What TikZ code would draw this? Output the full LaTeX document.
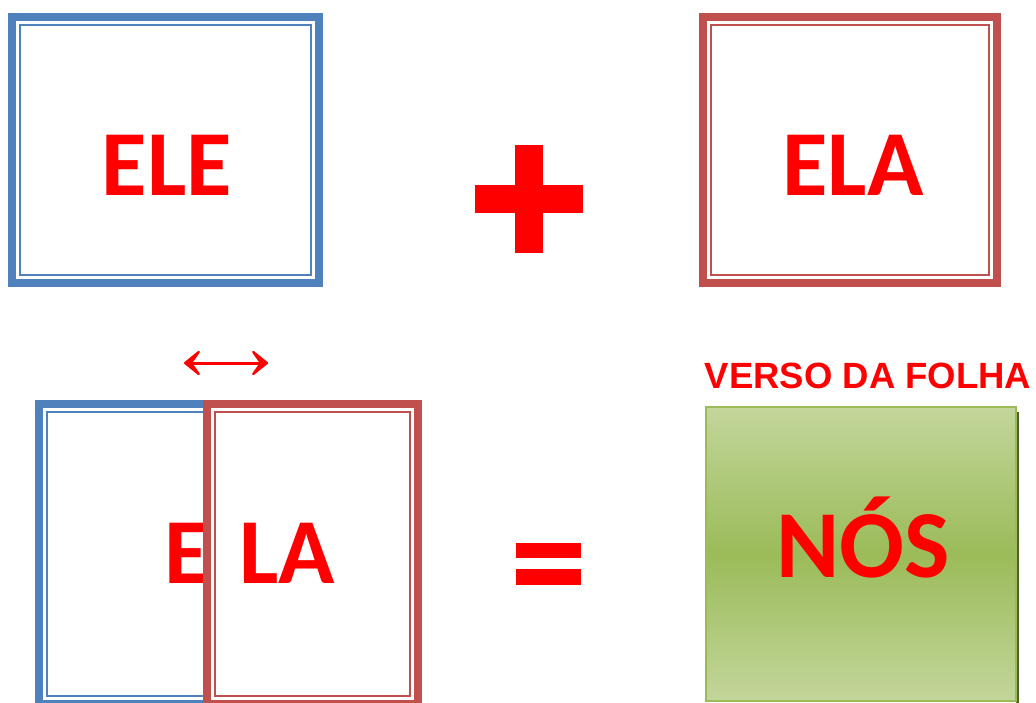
\documentclass[tikz,border=0pt]{standalone}
\usepackage{fontspec}
\newfontfamily\carl{Carlito}
\newfontfamily\arialb{Liberation Sans}
\usetikzlibrary{arrows.meta}
\definecolor{bx}{HTML}{4F81BD}
\definecolor{rx}{HTML}{C0504D}
\definecolor{gl}{HTML}{C3D69B}
\definecolor{gm}{HTML}{9BBB59}
\definecolor{gb}{HTML}{9BBB59}
\definecolor{gs}{HTML}{4F6228}
\newcommand{\dblbox}[5]{%
  \draw[line width=8pt,#5] ({#1+4},{#2+4}) rectangle ({#3-4},{#4-4});
  \draw[line width=2.5pt,#5] ({#1+12},{#2+12}) rectangle ({#3-12},{#4-12});}
\begin{document}
\begin{tikzpicture}[x=1pt,y=-1pt,
  big/.style={font=\carl\bfseries\fontsize{93}{93}\selectfont, text=red, inner sep=0pt},
  huge/.style={font=\carl\bfseries\fontsize{96}{96}\selectfont, text=red, inner sep=0pt},
  head/.style={font=\arialb\bfseries\fontsize{36.5}{36.5}\selectfont, text=red, inner sep=0pt},
  sign/.style={fill=red, draw=none},
  tip/.tip={Stealth[length=21pt,width=34pt,inset=12pt,round,line width=2.5pt]}]
\useasboundingbox (0,0) rectangle (1036,702);
\begin{scope}
\clip (0,0) rectangle (1036,702);
% top boxes
\dblbox{8}{13}{323}{287}{bx}
\node[big, anchor=base] (ele) at (167,195) {ELE};
\dblbox{699}{13}{1001}{287}{rx}
\node[big, anchor=base] (ela) at (853,195) {ELA};
% plus
\fill[sign] (475,185) rectangle (583,213);
\fill[sign] (515,145) rectangle (543,253);
% bottom left overlapping boxes
\dblbox{35}{400}{380}{708}{bx}
\node[big, anchor=base west] (e) at (164,583) {E};
\fill[white] (203,400) rectangle (422,708);
\dblbox{203}{400}{422}{708}{rx}
\node[big, anchor=base west] (la) at (239,583) {LA};
% arrow
\coordinate (al) at (184,363);
\coordinate (ar) at (268,363);
\draw[red, line width=3pt, tip-tip] (al) -- (ar);
% equals
\fill[sign] (516,543) rectangle (581,558);
\fill[sign] (516,569) rectangle (581,585);
% green box
\fill[gs] (1016,412) rectangle (1019,710);
\shade[top color=gl, bottom color=gl, middle color=gm] (706,407) rectangle (1016,701);
\draw[gb, line width=2.5pt] (706,407) rectangle (1016,701);
\node[huge, anchor=base] (nos) at (863,577) {NÓS};
\node[head, anchor=base] (verso) at (868,388) {VERSO DA FOLHA};
\end{scope}
\end{tikzpicture}
\end{document}
